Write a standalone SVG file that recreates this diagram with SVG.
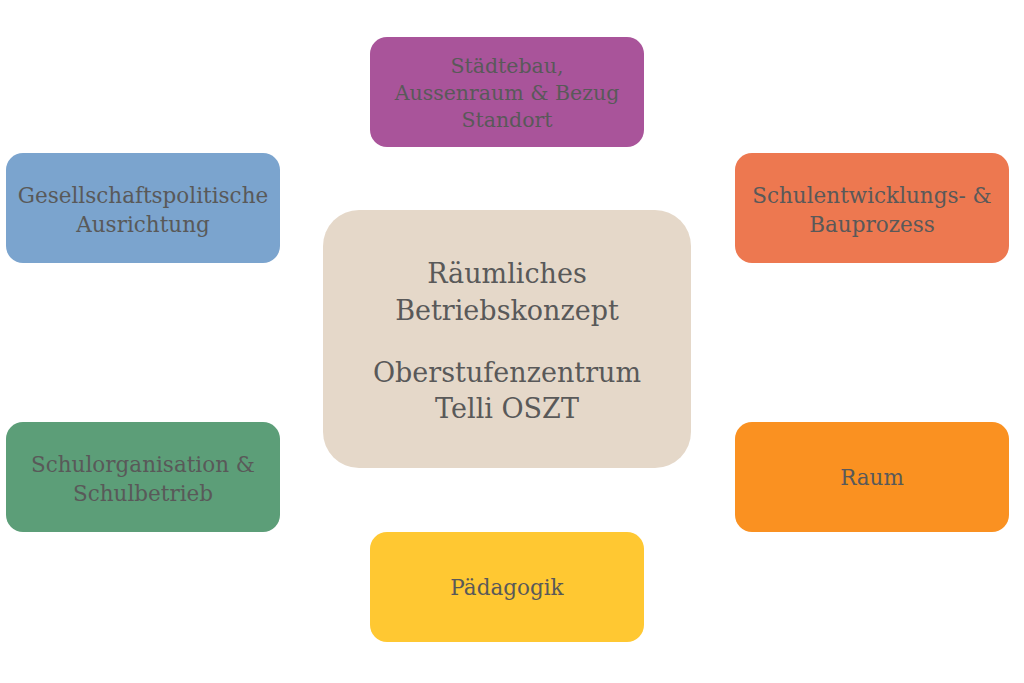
<svg xmlns="http://www.w3.org/2000/svg" width="1024" height="683" viewBox="0 0 1024 683">
<style>
text{font-family:"DejaVu Serif","Liberation Serif",serif;fill:#595959;text-anchor:middle}
.s{font-size:21.5px}
.t{font-size:20.5px}
.c{font-size:27px}
</style>
<rect width="1024" height="683" fill="#ffffff"/>
<g id="connectors"></g>
<g id="center">
<rect x="323" y="210" width="368" height="258" rx="36" fill="#E5D8C9"/>
<text class="c" x="507" y="283">Räumliches</text>
<text class="c" x="507" y="320">Betriebskonzept</text>
<text class="c" x="507" y="382">Oberstufenzentrum</text>
<text class="c" x="507" y="418">Telli OSZT</text>
</g>
<g id="staedtebau">
<rect x="370" y="37" width="274" height="110" rx="17" fill="#A9549A"/>
<text class="t" x="507" y="73">Städtebau,</text>
<text class="t" x="507" y="100">Aussenraum &amp; Bezug</text>
<text class="t" x="507" y="127">Standort</text>
</g>
<g id="gesellschaft">
<rect x="6" y="153" width="274" height="110" rx="17" fill="#7BA4CE"/>
<text class="s" x="143" y="203">Gesellschaftspolitische</text>
<text class="s" x="143" y="232">Ausrichtung</text>
</g>
<g id="schulentwicklung">
<rect x="735" y="153" width="274" height="110" rx="17" fill="#ED7850"/>
<text class="s" x="872" y="203">Schulentwicklungs- &amp;</text>
<text class="s" x="872" y="232">Bauprozess</text>
</g>
<g id="schulorganisation">
<rect x="6" y="422" width="274" height="110" rx="17" fill="#5C9E78"/>
<text class="s" x="143" y="472">Schulorganisation &amp;</text>
<text class="s" x="143" y="501">Schulbetrieb</text>
</g>
<g id="raum">
<rect x="735" y="422" width="274" height="110" rx="17" fill="#FA9121"/>
<text class="s" x="872" y="485">Raum</text>
</g>
<g id="paedagogik">
<rect x="370" y="532" width="274" height="110" rx="17" fill="#FFC832"/>
<text class="s" x="507" y="595">Pädagogik</text>
</g>
</svg>
